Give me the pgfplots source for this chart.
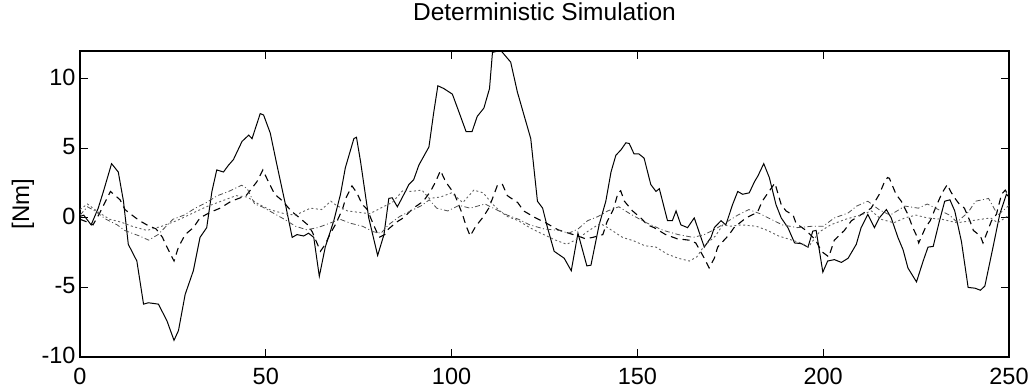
\documentclass[border=0pt]{standalone}
\usepackage{pgfplots}
\pgfplotsset{compat=1.18}
\usepackage{fontspec}
\setmainfont{Liberation Sans}
\begin{document}
\begin{tikzpicture}
\begin{axis}[
  name=ax,
  scale only axis,
  width=929pt, height=306pt,
  xmin=0, xmax=250, ymin=-10, ymax=12,
  xtick={0,50,100,150,200,250},
  ytick={-10,-5,0,5,10},
  xticklabels={0,50,100,150,200,250},
  yticklabels={-10,-5,0,5,10},
  tick pos=both,
  xticklabel pos=left, yticklabel pos=left,
  tick align=inside,
  major tick length=8pt,
  every tick/.style={black, line width=1pt},
  axis line style={black, line width=1.2pt},
  tick label style={font=\fontsize{23.5}{27}\selectfont},
  xticklabel style={yshift=-8pt},
  yticklabel style={xshift=-1pt, yshift=1.5pt},
  /pgf/number format/assume math mode=true,
  title={Deterministic Simulation},
  title style={font=\fontsize{24.5}{28}\selectfont, at={(axis description cs:0.5,1)}, anchor=base, yshift=24pt},
  ylabel={[Nm]},
  ylabel style={font=\fontsize{24}{28}\selectfont, at={(axis description cs:-0.0614,0.5)}, anchor=center},
  clip=true,
]
% solid
\addplot[black, line width=1pt] coordinates {
(0,0.1)(1,0.2)(3,-0.5)(4.9,0.7)(6.3,1.9)(8.5,3.9)(10.3,3.3)(11.7,1.2)(13,-1.9)(15.3,-3.1)(17.1,-6.2)(18.4,-6.1)(21.1,-6.2)(23.4,-7.4)(25.3,-8.8)(26.5,-8.1)(28.3,-5.5)(30.5,-3.8)(32.3,-1.4)(34.1,-0.7)(35.5,1.9)(36.8,3.45)(38.6,3.3)(40,3.8)(41.3,4.2)(43.6,5.5)(45.4,5.95)(46.3,5.7)(48.5,7.5)(49.4,7.4)(51.2,6.1)(53,3.8)(55.3,0.95)(57.1,-1.4)(58.4,-1.2)(60.2,-1.3)(61.5,-1.1)(62.9,-1.4)(64.4,-4.2)(66,-2.1)(68.3,-0.2)(70.1,1.7)(71.4,3.6)(73.7,5.7)(74.4,5.8)(75.5,4.05)(77.7,0)(80.1,-2.7)(81.8,-1.2)(83.1,1.4)(84,1.45)(85.4,0.8)(86.7,1.45)(88.5,2.4)(89.8,2.75)(91.2,3.8)(93.9,5.1)(95.2,7.6)(96.3,9.5)(97.9,9.3)(100.2,8.9)(102,7.6)(103.9,6.2)(105.5,6.2)(106.9,7.3)(108.7,7.9)(110.2,9.3)(111,11.9)(113.2,12.05)(115.9,11.2)(117.7,9.05)(121.3,5.7)(123.1,1.2)(124.5,0.7)(125.8,-0.7)(127.6,-2.4)(130.3,-2.9)(132.2,-3.8)(134,-1.1)(136.4,-3.45)(137.5,-3.4)(139.7,-0.5)(141.5,1.2)(142.9,3.3)(144.2,4.5)(145.6,4.9)(146.9,5.4)(147.8,5.35)(149.1,4.6)(150.4,4.6)(151.8,4.3)(153.6,2.4)(155,1.9)(155.9,2.1)(158.1,-0.2)(159.4,-0.2)(160.4,0.5)(161.7,-0.5)(163.5,-0.7)(165.3,0)(166.2,-0.7)(168,-2.1)(169.8,-1.4)(170.7,-0.7)(172.5,-0.2)(173.8,-0.5)(175.6,0.95)(177,1.9)(178.3,1.7)(180.1,1.8)(181.5,2.6)(182.4,3.0)(184,3.9)(185.5,2.9)(187.3,0.95)(188.7,0)(190.5,-0.7)(192.3,-1.8)(194.1,-1.85)(195.9,-2.1)(197.2,-0.95)(198.1,-0.9)(199.9,-3.9)(201.2,-3.1)(203,-3.0)(204.9,-3.2)(206.7,-2.9)(208.9,-1.9)(210.2,-0.7)(212,0.25)(213.8,-0.7)(215.1,0)(217,0.6)(218.3,0)(220.1,-1.4)(221.5,-2.3)(222.8,-3.6)(225.1,-4.6)(226.9,-3.1)(228.2,-2.1)(229.6,-2.05)(231.3,-0.2)(232.7,1.2)(234.1,1.3)(235.4,0.5)(237.2,-1.7)(239,-5.0)(240.8,-5.05)(242.3,-5.2)(243.5,-4.9)(245.7,-2.1)(247.5,0.25)(249.3,1.7)(250,1.5)
};
% dashed
\addplot[black, line width=1.1pt, dash pattern=on 7pt off 5pt] coordinates {
(0,-0.1)(2,-0.3)(3.5,-0.5)(5,0.2)(6.5,1.0)(8.2,1.9)(9.5,1.6)(10.8,1.3)(12.1,0.6)(14,0.2)(16,-0.2)(18,-0.5)(20.5,-0.8)(22.2,-1.4)(23.4,-2.1)(25.3,-3.1)(26.5,-2.1)(28.3,-1.2)(30.5,-0.7)(32.3,0)(35,0.4)(37.7,0.7)(40.7,1.2)(44.7,1.6)(47.6,2.6)(49.2,3.45)(50.7,2.6)(52.4,1.7)(54.6,1.2)(56.8,0.5)(59.1,0)(61.3,-0.5)(62.5,-1.0)(64.7,-2.4)(66,-1.9)(67.4,-1.1)(68.7,-0.5)(70.6,0.6)(71.5,1.4)(73.2,2.3)(74.5,1.8)(75.9,1.0)(77.3,0.6)(79,-0.5)(80.5,-1.4)(82,-1.2)(83,-0.8)(85.2,-0.3)(87,0)(89.7,0.7)(92.4,1.2)(94.3,1.9)(95.7,2.6)(97,3.4)(98.4,2.6)(100.8,1.7)(103,0.2)(103.8,-0.5)(105,-1.3)(106.5,-0.6)(108.6,0.1)(110,0.7)(111.3,1.6)(112.4,2.4)(113.7,2.4)(115,1.6)(117.8,1.1)(119.4,0.5)(122.6,0)(125.3,-0.35)(128.6,-0.85)(131.5,-1.1)(134,-1.3)(136,-1.5)(138,-1.4)(140.7,-1.2)(141.8,-0.3)(143.5,0.6)(144.8,1.8)(145.5,1.95)(146.5,1.2)(148.7,0.5)(150.9,0)(152.7,-0.5)(154.5,-0.7)(157.6,-1.2)(160.7,-1.5)(163.9,-1.6)(165.7,-1.8)(168,-2.9)(169.3,-3.6)(170.7,-2.9)(171.6,-2.1)(174.7,-1.2)(176,-0.7)(179.2,0)(182.3,0.4)(183.6,1.2)(185.4,1.9)(187,2.5)(188.7,0.95)(190,0.5)(191.9,0.2)(192.7,-0.4)(195.4,-0.9)(198,-1.6)(199.5,-2.4)(201.5,-2.8)(203,-1.6)(205.7,-0.9)(207.6,-0.2)(210.3,0.25)(212.9,0.7)(215.1,1.7)(216.5,2.6)(217.3,2.9)(217.8,2.85)(219.6,1.7)(221,1.2)(222.8,0.25)(224.1,-0.7)(225,-1.2)(225.7,-1.8)(227.5,-0.7)(228.8,-0.2)(230.5,0.9)(232,1.8)(233.4,2.4)(234.3,1.9)(235.2,1.5)(236.6,1.0)(238,0.7)(239.6,-0.3)(240.4,-0.9)(242.3,-1.3)(243,-1.8)(245.3,-0.2)(246.6,0.25)(248,1.7)(249,2.0)(250,1.5)
};
% dash-dot gray
\addplot[black!70, line width=0.8pt, dash pattern=on 5pt off 2.5pt on 1pt off 2.5pt] coordinates {
(0,0.2)(2,0.8)(4,0.5)(7,-0.1)(10,-0.5)(12,-0.9)(16,-1.3)(18.5,-1.6)(21,-1.2)(25,-0.1)(28,0.2)(31,0.7)(34,1.1)(37,1.6)(40,1.9)(43.5,2.35)(45,2.1)(47,1.0)(49,0.8)(52,0.35)(55,-0.1)(58,-0.6)(61,-0.85)(64,-0.7)(67,-0.4)(70,-0.1)(73,-0.4)(76,-0.6)(79,-1.0)(81,-1.1)(83,-0.5)(86,0.1)(89,0.5)(92,0.9)(94,1.3)(96,0.7)(99,0.5)(102,0.9)(105,0.7)(109,1.0)(112,0.6)(115,0.2)(118,-0.1)(121,-0.5)(125,-0.8)(129,-0.9)(131.5,-1.1)(134,-0.8)(136.6,-0.2)(139.4,0.1)(142,0.5)(145,0.8)(148,0.3)(152,-0.3)(157,-0.9)(161,-1.2)(165,-1.4)(168,-1.2)(171,-0.8)(174,-0.3)(177,0.2)(180,0.6)(183,0.3)(186,-0.1)(189,-0.5)(193,-0.7)(197,-0.6)(200,-0.6)(203,0)(206.7,0.35)(209,0.85)(212,1.2)(215,0.6)(218,0.2)(222,0.85)(225.6,0.7)(228,1.0)(231,0.6)(234,0.2)(236,-0.3)(239,0.4)(241,1.2)(244.5,1.4)(247,0.2)(250,0.9)
};
% dotted gray
\addplot[black!62, line width=0.9pt, dash pattern=on 2pt off 2.5pt] coordinates {
(0,0.6)(2,1.0)(5,0.4)(8,-0.1)(11,-0.3)(14,-0.6)(18,-0.9)(22,-0.6)(26,-0.2)(30,0.3)(34,0.8)(38,1.2)(42,1.6)(45,1.5)(48,1.0)(51,0.6)(55,0.3)(58,0.2)(62,0.7)(65,0.6)(67.5,1.2)(69,0.9)(72,0.5)(75,0.4)(78,0.3)(82,0.85)(84,1.1)(87,2.0)(89,1.9)(92,2.0)(94,1.4)(97,1.5)(100,1.8)(103,1.1)(106,2.0)(108.5,1.8)(111,1.0)(113,0.5)(115,0.1)(118,-0.2)(121,-0.7)(124,-1.1)(128,-1.6)(131,-1.9)(134,-1.5)(137,-0.9)(140,-0.4)(142,-0.7)(146,-1.4)(149,-1.65)(152,-2.0)(155,-2.1)(158,-2.6)(161,-2.9)(164,-3.1)(166,-2.8)(168,-2.0)(171,-1.3)(173,-0.5)(175,-0.6)(178,-0.5)(182,-0.6)(185,-0.9)(188,-1.3)(191,-1.55)(194,-1.8)(196,-2.1)(199,-1.0)(202,-0.5)(206,-0.1)(210,0.2)(213,0.5)(215.6,-0.1)(219,-0.35)(222,0)(225,0.2)(228,0.0)(232,-0.1)(236,-0.35)(240,-0.2)(245,0)(247,-0.35)(250,0.2)
};
\end{axis}
\pgfresetboundingbox
\path[use as bounding box] ([shift={(-80pt,-35pt)}]ax.south west) rectangle ([shift={(26pt,51pt)}]ax.north east);
\end{tikzpicture}
\end{document}
